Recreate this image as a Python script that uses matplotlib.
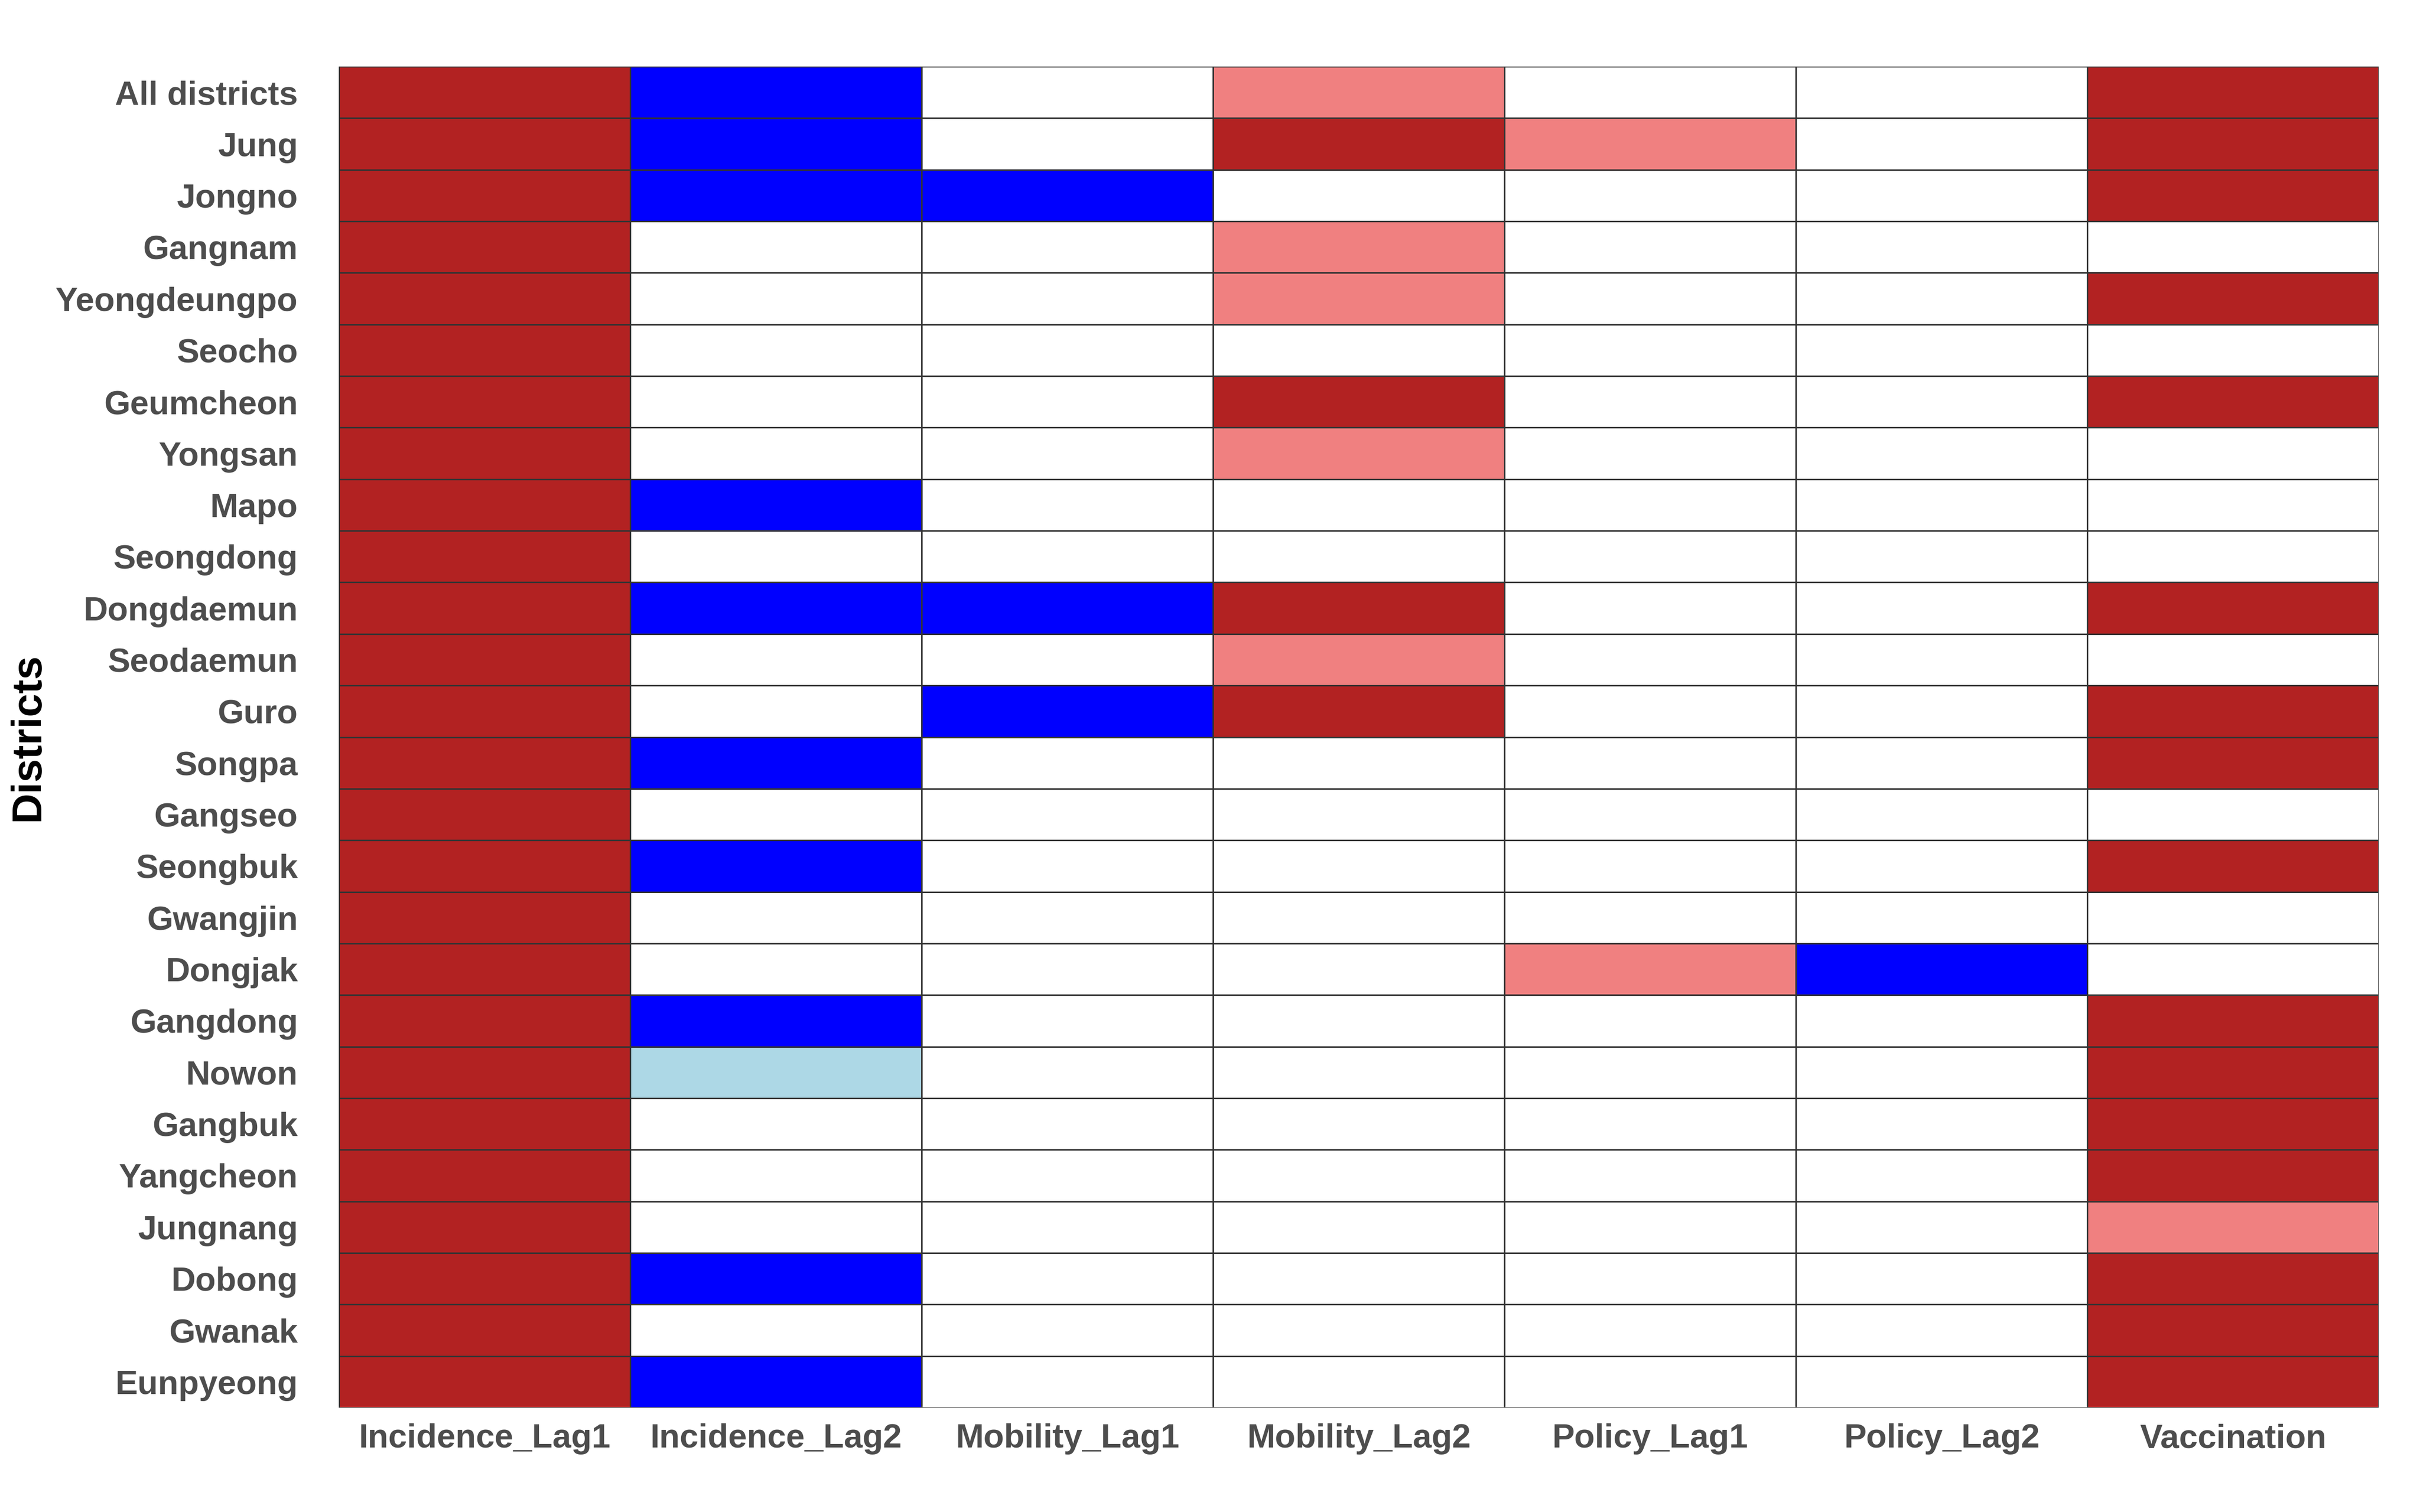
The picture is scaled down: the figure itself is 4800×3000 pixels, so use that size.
import numpy as np
import matplotlib.pyplot as plt
from matplotlib.colors import ListedColormap

districts = ['All districts', 'Jung', 'Jongno', 'Gangnam', 'Yeongdeungpo', 'Seocho',
             'Geumcheon', 'Yongsan', 'Mapo', 'Seongdong', 'Dongdaemun', 'Seodaemun',
             'Guro', 'Songpa', 'Gangseo', 'Seongbuk', 'Gwangjin', 'Dongjak', 'Gangdong',
             'Nowon', 'Gangbuk', 'Yangcheon', 'Jungnang', 'Dobong', 'Gwanak', 'Eunpyeong']
variables = ['Incidence_Lag1', 'Incidence_Lag2', 'Mobility_Lag1', 'Mobility_Lag2',
             'Policy_Lag1', 'Policy_Lag2', 'Vaccination']

# codes: 0 none, 1 strong positive, 2 weak positive, 3 strong negative, 4 weak negative
incidence_lag1 = [1] * 26
incidence_lag2 = [3, 3, 3, 0, 0, 0, 0, 0, 3, 0, 3, 0, 0, 3, 0, 3, 0, 0, 3, 4, 0, 0, 0, 3, 0, 3]
mobility_lag1  = [0, 0, 3, 0, 0, 0, 0, 0, 0, 0, 3, 0, 3, 0, 0, 0, 0, 0, 0, 0, 0, 0, 0, 0, 0, 0]
mobility_lag2  = [2, 1, 0, 2, 2, 0, 1, 2, 0, 0, 1, 2, 1, 0, 0, 0, 0, 0, 0, 0, 0, 0, 0, 0, 0, 0]
policy_lag1    = [0, 2, 0, 0, 0, 0, 0, 0, 0, 0, 0, 0, 0, 0, 0, 0, 0, 2, 0, 0, 0, 0, 0, 0, 0, 0]
policy_lag2    = [0, 0, 0, 0, 0, 0, 0, 0, 0, 0, 0, 0, 0, 0, 0, 0, 0, 3, 0, 0, 0, 0, 0, 0, 0, 0]
vaccination    = [1, 1, 1, 0, 1, 0, 1, 0, 0, 0, 1, 0, 1, 1, 0, 1, 0, 0, 1, 1, 1, 1, 2, 1, 1, 1]

matriz = np.column_stack([incidence_lag1, incidence_lag2, mobility_lag1, mobility_lag2,
                          policy_lag1, policy_lag2, vaccination])

colores = ListedColormap(['white', 'firebrick', 'lightcoral', 'blue', 'lightblue'])

fig = plt.figure(figsize=(16, 10), dpi=300)
ax = fig.add_axes([0.140, 0.069, 0.843, 0.887])
ax.pcolormesh(matriz, cmap=colores, vmin=-0.5, vmax=4.5,
              edgecolors='#333333', linewidth=0.35)
ax.set_xlim(0, len(variables))
ax.set_ylim(len(districts), 0)

fuente = ['Liberation Sans', 'DejaVu Sans']
ax.set_xticks(np.arange(len(variables)) + 0.5)
ax.set_xticklabels(variables, fontsize=16, fontweight='bold', color='#4D4D4D', family=fuente)
ax.set_yticks(np.arange(len(districts)) + 0.5)
ax.set_yticklabels(districts, fontsize=16, fontweight='bold', color='#4D4D4D', family=fuente)
ax.tick_params(axis='x', length=0, pad=7.5)
ax.tick_params(axis='y', length=0, pad=19.5)
for s in ax.spines.values():
    s.set_visible(False)

fig.text(0.0115, 0.5125, 'Districts', rotation=90, fontsize=20, fontweight='bold',
         family=fuente, ha='center', va='center', color='black')

plt.savefig('out.png', dpi=300, facecolor='white')
